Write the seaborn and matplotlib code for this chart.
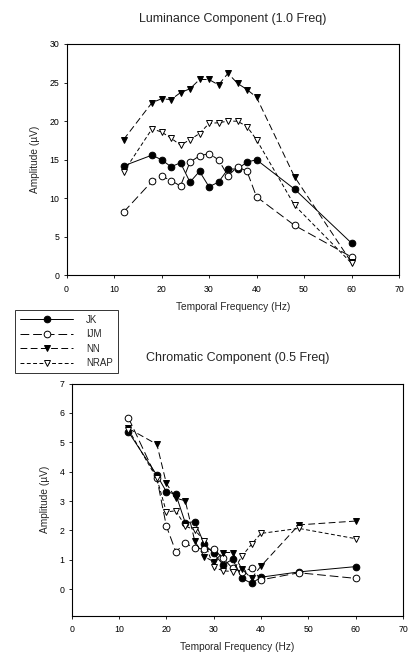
import numpy as np
import pandas as pd
import matplotlib
matplotlib.use('Agg')
import matplotlib.pyplot as plt
import seaborn as sns

# ─── Data ─────────────────────────────────────────────────────────────────────
FREQ = [12, 18, 20, 22, 24, 26, 28, 30, 32, 34, 36, 38, 40, 48, 60]
SUBJECTS = ['JK', 'IJM', 'NN', 'NRAP']

lum_jk   = [14.2, 15.6, 15.0, 14.1, 14.6, 12.1, 13.5, 11.5, 12.1, 13.8, 13.8, 14.7, 15.0, 11.2, 4.2]
lum_ijm  = [8.2, 12.2, 12.9, 12.3, 11.6, 14.7, 15.5, 15.8, 15.0, 12.9, 14.1, 13.5, 10.2, 6.5, 2.4]
lum_nn   = [17.6, 22.4, 22.9, 22.8, 23.7, 24.2, 25.4, 25.4, 24.7, 26.2, 24.9, 24.1, 23.1, 12.8, 1.7]
lum_nrap = [13.4, 19.0, 18.6, 17.8, 16.9, 17.6, 18.4, 19.7, 19.8, 20.0, 20.0, 19.3, 17.6, 9.1, 1.6]

chr_jk   = [5.35, 3.88, 3.32, 3.23, 2.26, 2.30, 1.54, 1.22, 0.83, 1.02, 0.37, 0.20, 0.41, 0.59, 0.77]
chr_ijm  = [5.83, 3.77, 2.15, 1.28, 1.56, 1.41, 1.36, 1.36, 1.05, 0.71, 0.60, 0.71, 0.32, 0.56, 0.37]
chr_nn   = [5.47, 4.93, 3.60, 3.10, 3.01, 1.64, 1.11, 0.94, 1.25, 1.25, 0.68, 0.37, 0.79, 2.19, 2.32]
chr_nrap = [5.43, 3.77, 2.63, 2.67, 2.15, 2.02, 1.65, 0.75, 0.63, 0.60, 1.13, 1.53, 1.90, 2.07, 1.72]

# ─── Styles ───────────────────────────────────────────────────────────────────
STYLE = {
    'JK':   dict(marker='o', mfc='black', ls='-'),
    'IJM':  dict(marker='o', mfc='white', ls=(0, (9, 4))),
    'NN':   dict(marker='v', mfc='black', ls=(0, (7, 3.5))),
    'NRAP': dict(marker='v', mfc='white', ls=(0, (4, 2.5))),
}

sns.set_style('ticks')
plt.rcParams['font.family'] = ['Liberation Sans', 'DejaVu Sans']
plt.rcParams['xtick.labelsize'] = 6.3
plt.rcParams['ytick.labelsize'] = 6.3
plt.rcParams['xtick.major.size'] = 2.5
plt.rcParams['ytick.major.size'] = 2.5
plt.rcParams['xtick.major.width'] = 0.6
plt.rcParams['ytick.major.width'] = 0.6
plt.rcParams['axes.linewidth'] = 0.8

W, H = 411, 653
fig = plt.figure(figsize=(W / 100, H / 100), dpi=100)
ax_top = fig.add_axes([66.5 / W, 1 - 275.5 / H, (399 - 66.5) / W, (275.5 - 44) / H])
ax_bot = fig.add_axes([71.7 / W, 1 - 615.7 / H, (403 - 71.7) / W, (615.7 - 383.5) / H])


def draw(ax, series):
    for name, vals in zip(SUBJECTS, series):
        st = STYLE[name]
        df = pd.DataFrame({'freq': FREQ, 'amp': vals})
        sns.lineplot(data=df, x='freq', y='amp', ax=ax, color='black',
                     linewidth=0.7, linestyle=st['ls'], marker=st['marker'],
                     markersize=4.8, markerfacecolor=st['mfc'],
                     markeredgecolor='black', markeredgewidth=0.7, label=name)
    ax.set_xlim(0, 70)
    ax.set_xticks(range(0, 71, 10))
    ax.set_xlabel('Temporal Frequency (Hz)', fontsize=7.3, labelpad=6)
    ax.set_ylabel('Amplitude (µV)', fontsize=7.3, labelpad=7)
    for s in ax.spines.values():
        s.set_visible(True)
        s.set_color('black')
    ax.tick_params(direction='out', colors='black')
    ax.tick_params(axis='x', pad=4)
    ax.tick_params(axis='y', pad=2.5)
    ax.grid(False)


draw(ax_top, [lum_jk, lum_ijm, lum_nn, lum_nrap])
ax_top.set_ylim(0, 30)
ax_top.set_yticks(range(0, 31, 5))
ax_top.set_title('Luminance Component (1.0 Freq)', fontsize=9, pad=16)

draw(ax_bot, [chr_jk, chr_ijm, chr_nn, chr_nrap])
ax_bot.set_ylim(-0.9, 7)
ax_bot.set_yticks(range(0, 8))
ax_bot.set_title('Chromatic Component (0.5 Freq)', fontsize=9, pad=16)

handles, labels = ax_top.get_legend_handles_labels()
ax_top.get_legend().remove()
ax_bot.get_legend().remove()
leg = fig.legend(handles, labels, loc='upper left',
                 bbox_to_anchor=(15 / W, 1 - 310 / H), fontsize=7,
                 frameon=True, fancybox=False, edgecolor='black',
                 handlelength=5.5, handletextpad=1.3, labelspacing=0.45,
                 borderpad=0.5, borderaxespad=0)
leg.get_frame().set_linewidth(0.7)

fig.savefig('out.png', dpi=100)
